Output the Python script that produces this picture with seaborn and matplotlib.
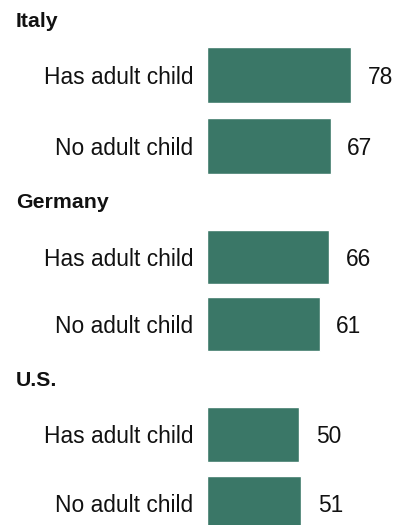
import seaborn as sns
import matplotlib.pyplot as plt
import pandas as pd

# data
countries = ["Italy", "Germany", "U.S."]
groups = ["Has adult child", "No adult child"]
italy = [78, 67]
germany = [66, 61]
us = [50, 51]
values = [italy, germany, us]

sns.set_style("white")
plt.rcParams['font.family'] = ['Liberation Sans', 'DejaVu Sans']

W, H = 405, 525
fig = plt.figure(figsize=(W / 100, H / 100), dpi=100)

bar_color = "#3a7767"

# layout in pixels: (axes top, axes bottom, header baseline)
layout = [(40.1, 180.9, 26.7), (223.0, 357.7, 208.3), (399.7, 537.7, 386.0)]
x_left, x_width = 207.3, 184.0

for country, vals, (top, bottom, base) in zip(countries, values, layout):
    ax = fig.add_axes([x_left / W, 1 - bottom / H, x_width / W, (bottom - top) / H])
    df = pd.DataFrame({"group": groups, "value": vals})
    sns.barplot(data=df, x="value", y="group", ax=ax, color=bar_color,
                saturation=1, width=0.8, orient="h")
    ax.set_xlim(0, 100)
    ax.set_xlabel("")
    ax.set_ylabel("")
    ax.set_xticks([])
    ax.tick_params(axis="y", length=0, pad=10, labelsize=16.4, labelcolor="#111111")
    for s in ax.spines.values():
        s.set_visible(False)
    ax.patch.set_alpha(0)
    for c in ax.containers:
        labels = ax.bar_label(c, padding=12, fontsize=16.4, color="#111111")
        for t in labels:
            t.set_va("center_baseline")
    fig.text(16 / W, 1 - base / H, country, fontsize=15.3, fontweight="bold",
             va="baseline", ha="left", color="#111111")

fig.savefig("out.png", dpi=100)
